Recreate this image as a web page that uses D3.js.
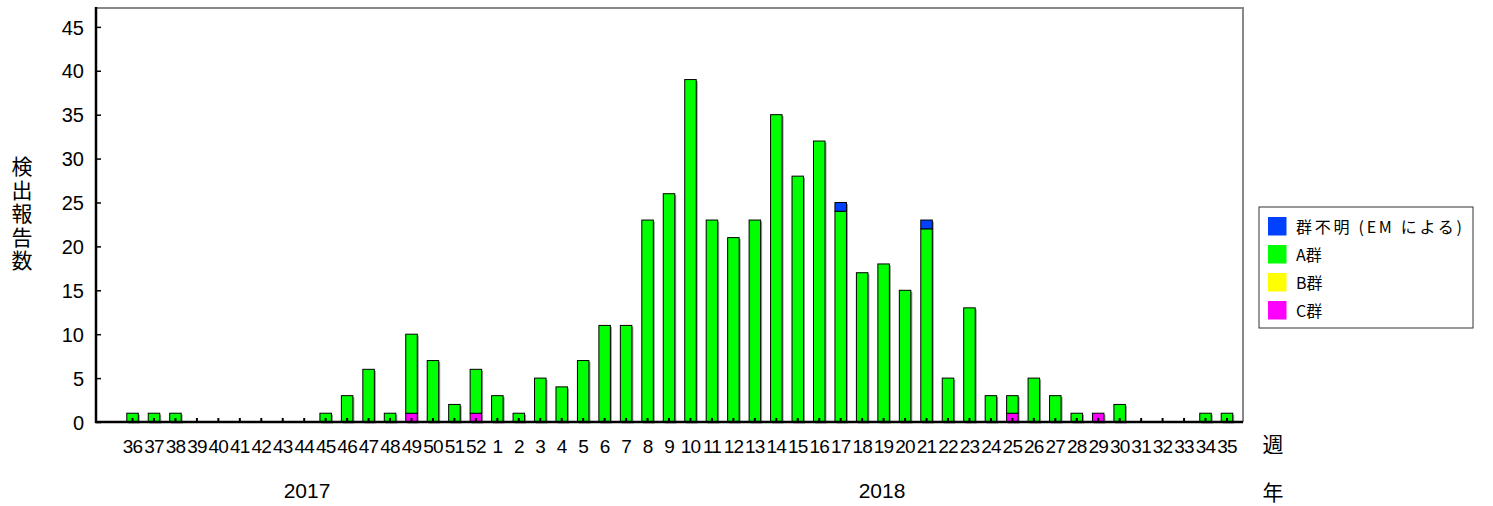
<!DOCTYPE html>
<html lang="ja">
<head>
<meta charset="utf-8">
<style>
    body { margin: 0; background: #fff; }
    svg { display: block; }
    text { font-family: "Liberation Sans Narrow", "Liberation Sans", Arial, sans-serif; fill: #000; }
    .jp { font-family: "Noto Sans CJK JP", sans-serif; }
</style>
</head>
<body>
<svg width="1493" height="506"></svg>
<script src="https://cdn.jsdelivr.net/npm/d3@7/dist/d3.min.js"></script>
<script>
    // weeks: 2017 wk36-52, then 2018 wk1-35
    const weeks = [36,37,38,39,40,41,42,43,44,45,46,47,48,49,50,51,52,
                   1,2,3,4,5,6,7,8,9,10,11,12,13,14,15,16,17,18,19,20,21,22,23,24,25,26,27,28,29,30,31,32,33,34,35];
    const groupC = [0,0,0,0,0,0,0,0,0,0,0,0,0,1,0,0,1,
                    0,0,0,0,0,0,0,0,0,0,0,0,0,0,0,0,0,0,0,0,0,0,0,0,1,0,0,0,1,0,0,0,0,0,0];
    const groupB = weeks.map(() => 0);
    const groupA = [1,1,1,0,0,0,0,0,0,1,3,6,1,9,7,2,5,
                    3,1,5,4,7,11,11,23,26,39,23,21,23,35,28,32,24,17,18,15,22,5,13,3,2,5,3,1,0,2,0,0,0,1,1];
    const groupUnknown = [0,0,0,0,0,0,0,0,0,0,0,0,0,0,0,0,0,
                    0,0,0,0,0,0,0,0,0,0,0,0,0,0,0,0,1,0,0,0,1,0,0,0,0,0,0,0,0,0,0,0,0,0,0];
    const yTicks = [0,5,10,15,20,25,30,35,40,45];
    const years = ["2017", "2018"];

    const series = [
        { key: "C", name: "C群", color: "#ff00ff", values: groupC },
        { key: "B", name: "B群", color: "#ffff00", values: groupB },
        { key: "A", name: "A群", color: "#00ff00", values: groupA },
        { key: "U", name: "群不明 (EM による)", color: "#0040ff", values: groupUnknown }
    ];

    const table = weeks.map((w, i) => {
        const row = { idx: i, week: w };
        series.forEach(s => row[s.key] = s.values[i]);
        return row;
    });
    const stacked = d3.stack().keys(series.map(s => s.key))(table);

    const svg = d3.select("svg");
    const plotLeft = 96, plotRight = 1243, plotTop = 8, plotBottom = 422;

    const x = d3.scaleBand().domain(d3.range(weeks.length)).range([121.8, 1237.7])
        .paddingInner(0.464).paddingOuter(0.232);
    const y = d3.scaleLinear().domain([0, 47.15]).range([plotBottom, plotTop]);

    // frame
    svg.append("path")
        .attr("d", `M${plotLeft},${plotTop}H${plotRight}V${plotBottom}`)
        .attr("fill", "none").attr("stroke", "#888").attr("stroke-width", 2);

    // bars (grey shadow first, then the coloured segments)
    const barG = svg.append("g");
    stacked.forEach(layer => {
        barG.append("g").selectAll("rect")
            .data(layer.filter(d => d[1] > d[0]))
            .join("rect")
            .attr("x", d => x(d.data.idx) + 1.5)
            .attr("y", d => y(d[1]) + 1.5)
            .attr("width", x.bandwidth())
            .attr("height", d => y(d[0]) - y(d[1]))
            .attr("fill", "#999");
    });
    stacked.forEach((layer, li) => {
        const s = series[li];
        barG.append("g").selectAll("rect")
            .data(layer.filter(d => d[1] > d[0]))
            .join("rect")
            .attr("x", d => x(d.data.idx))
            .attr("y", d => y(d[1]))
            .attr("width", x.bandwidth())
            .attr("height", d => y(d[0]) - y(d[1]))
            .attr("fill", s.color)
            .attr("stroke", "#000").attr("stroke-width", 1);
    });

    // y axis
    const yAxis = svg.append("g").attr("transform", `translate(${plotLeft},0)`)
        .call(d3.axisRight(y).tickValues(yTicks).tickSize(5).tickFormat(d3.format("d")));
    yAxis.select(".domain").remove();
    yAxis.selectAll("line").attr("stroke", "#000").attr("stroke-width", 1.5);
    yAxis.selectAll("text").attr("x", -12).attr("dy", "0.36em").attr("text-anchor", "end")
        .style("font-size", "20px").style("font-family", "'Liberation Sans Narrow', 'Liberation Sans', sans-serif");
    svg.append("line").attr("x1", plotLeft).attr("x2", plotLeft).attr("y1", plotTop - 1).attr("y2", plotBottom + 1)
        .attr("stroke", "#000").attr("stroke-width", 2.5);

    // x axis
    const xAxis = svg.append("g").attr("transform", `translate(0,${plotBottom})`)
        .call(d3.axisBottom(x).tickSize(-4).tickFormat(i => weeks[i]));
    xAxis.select(".domain").remove();
    xAxis.selectAll("line").attr("stroke", "#000").attr("stroke-width", 2);
    xAxis.selectAll("text").attr("y", 31).attr("dy", 0)
        .style("font-size", "19px").style("letter-spacing", "-0.8px")
        .style("font-family", "'Liberation Sans Narrow', 'Liberation Sans', sans-serif");
    svg.append("line").attr("x1", plotLeft - 1).attr("x2", plotRight).attr("y1", plotBottom).attr("y2", plotBottom)
        .attr("stroke", "#000").attr("stroke-width", 2.5);

    // year labels
    svg.append("g").selectAll("text")
        .data(years)
        .join("text")
        .attr("x", (d, i) => i === 0 ? 307 : 882)
        .attr("y", 498)
        .attr("text-anchor", "middle")
        .style("font-size", "21px")
        .text(d => d);

    // unit labels
    svg.append("text").attr("class", "jp").attr("x", 1273).attr("y", 452)
        .attr("text-anchor", "middle").style("font-size", "21px").text("週");
    svg.append("text").attr("class", "jp").attr("x", 1273).attr("y", 500)
        .attr("text-anchor", "middle").style("font-size", "21px").text("年");

    // y title, vertical
    svg.append("text")
        .attr("class", "jp")
        .attr("x", 22)
        .attr("y", 156)
        .style("writing-mode", "vertical-rl")
        .style("text-orientation", "upright")
        .style("letter-spacing", "2.5px")
        .style("font-size", "21px")
        .text("検出報告数");

    // legend
    const legend = svg.append("g").attr("transform", "translate(1259,207)");
    legend.append("rect").attr("width", 214).attr("height", 121)
        .attr("fill", "#fff").attr("stroke", "#333").attr("stroke-width", 1);
    const legendItems = series.slice().reverse();
    legendItems.forEach((s, i) => {
        const g = legend.append("g").attr("transform", `translate(9,${10 + i * 28})`);
        g.append("rect").attr("width", 18.5).attr("height", 18.5).attr("fill", s.color);
        const t = g.append("text").attr("class", "jp").attr("x", 28).attr("y", 16)
            .style("font-size", "16px").text(s.name);
        if (i === 0) t.attr("textLength", 166).attr("lengthAdjust", "spacing");
    });
</script>
</body>
</html>
